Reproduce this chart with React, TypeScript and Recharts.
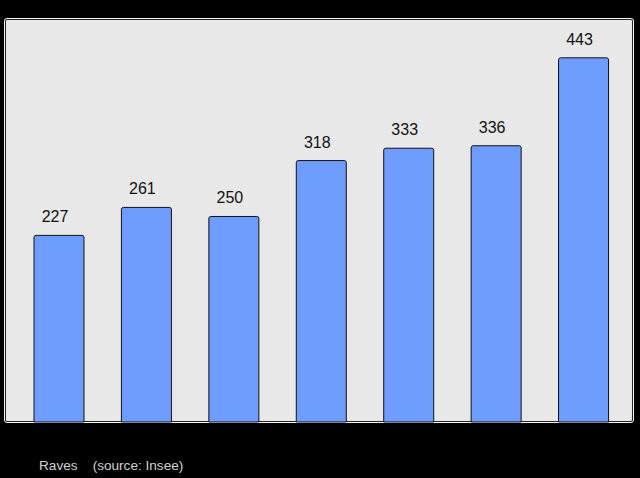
import React from "react";
import { BarChart, Bar, XAxis, YAxis, LabelList } from "recharts";

const categories = ["1", "2", "3", "4", "5", "6", "7"];
const values = [227, 261, 250, 318, 333, 336, 443];
const captionTitle = "Raves";
const captionSource = "(source: Insee)";

const data = categories.map((c, i) => ({ name: c, value: values[i] }));

const renderLabel = (props: any) => {
  const { x, y, width, value } = props;
  return (
    <text
      x={x + width / 2 - 4}
      y={y - 13}
      textAnchor="middle"
      fontFamily="'Liberation Sans', Arial, sans-serif"
      fontSize={16}
      fill="#111"
    >
      {value}
    </text>
  );
};

export default function App() {
  return (
    <div
      style={{
        position: "fixed",
        left: 0,
        top: 0,
        width: 640,
        height: 478,
        background: "#000",
        overflow: "hidden",
      }}
    >
      <div
        style={{
          position: "absolute",
          left: 5,
          top: 19,
          width: 626,
          height: 401,
          background: "#e8e8e8",
          border: "1px solid #222",
          outline: "1px solid #f4f4f4",
          borderRadius: 2,
        }}
      />
      <div style={{ position: "absolute", left: 0, top: 0 }}>
        <BarChart
          width={640}
          height={478}
          data={data}
          margin={{ top: 20, right: 13, bottom: 56, left: 15 }}
        >
          <XAxis dataKey="name" hide />
          <YAxis hide domain={[0, 489]} />
          <Bar
            dataKey="value"
            fill="#6f9cff"
            stroke="#111"
            strokeWidth={1}
            barSize={50}
            radius={[2, 2, 0, 0]}
            isAnimationActive={false}
          >
            <LabelList dataKey="value" content={renderLabel} />
          </Bar>
        </BarChart>
      </div>
      <div
        style={{
          position: "absolute",
          left: 39,
          top: 458,
          fontFamily: "'Liberation Sans', Arial, sans-serif",
          fontSize: 13.6,
          color: "#d0d0d0",
          whiteSpace: "pre",
        }}
      >
        {captionTitle + "    " + captionSource}
      </div>
    </div>
  );
}
